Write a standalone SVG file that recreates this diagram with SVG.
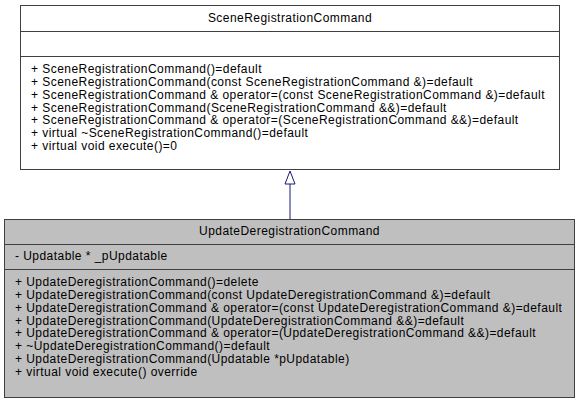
<svg xmlns="http://www.w3.org/2000/svg" width="580" height="404" viewBox="0 0 580 404">
<style>
.box{stroke:#404040;stroke-width:1}
.base{fill:#ffffff}
.cur{fill:#bfbfbf}
.sep{stroke:#404040;stroke-width:1}
text{font-family:"Liberation Sans",Arial,sans-serif;font-size:12px;letter-spacing:0.45px;fill:#000}
.t{text-anchor:middle}
.edge{stroke:#191970;stroke-width:1;fill:none}
.head{stroke:#191970;stroke-width:1;fill:#ffffff}
</style>
<g id="connectors">
<path class="edge" d="M290,184 V219"/>
<polygon class="head" points="290,171 295,184 285,184"/>
</g>
<g id="SceneRegistrationCommand">
<rect class="box base" x="20.5" y="5.5" width="539" height="164"/>
<line class="sep" x1="20.5" y1="31.5" x2="559.5" y2="31.5"/>
<line class="sep" x1="20.5" y1="56.5" x2="559.5" y2="56.5"/>
<text class="t" x="290" y="22">SceneRegistrationCommand</text>
<text x="31" y="73">+ SceneRegistrationCommand()=default</text>
<text x="31" y="85.9">+ SceneRegistrationCommand(const SceneRegistrationCommand &amp;)=default</text>
<text x="31" y="98.7">+ SceneRegistrationCommand &amp; operator=(const SceneRegistrationCommand &amp;)=default</text>
<text x="31" y="111.6">+ SceneRegistrationCommand(SceneRegistrationCommand &amp;&amp;)=default</text>
<text x="31" y="124.4">+ SceneRegistrationCommand &amp; operator=(SceneRegistrationCommand &amp;&amp;)=default</text>
<text x="31" y="137.3">+ virtual ~SceneRegistrationCommand()=default</text>
<text x="31" y="150.1">+ virtual void execute()=0</text>
</g>
<g id="UpdateDeregistrationCommand">
<rect class="box cur" x="4.5" y="219.5" width="570" height="178"/>
<line class="sep" x1="4.5" y1="244.5" x2="574.5" y2="244.5"/>
<line class="sep" x1="4.5" y1="269.5" x2="574.5" y2="269.5"/>
<text class="t" x="289.5" y="235">UpdateDeregistrationCommand</text>
<text x="15" y="260">- Updatable * _pUpdatable</text>
<text x="15" y="286">+ UpdateDeregistrationCommand()=delete</text>
<text x="15" y="298.9">+ UpdateDeregistrationCommand(const UpdateDeregistrationCommand &amp;)=default</text>
<text x="15" y="311.7">+ UpdateDeregistrationCommand &amp; operator=(const UpdateDeregistrationCommand &amp;)=default</text>
<text x="15" y="324.6">+ UpdateDeregistrationCommand(UpdateDeregistrationCommand &amp;&amp;)=default</text>
<text x="15" y="337.4">+ UpdateDeregistrationCommand &amp; operator=(UpdateDeregistrationCommand &amp;&amp;)=default</text>
<text x="15" y="350.3">+ ~UpdateDeregistrationCommand()=default</text>
<text x="15" y="363.1">+ UpdateDeregistrationCommand(Updatable *pUpdatable)</text>
<text x="15" y="376">+ virtual void execute() override</text>
</g>
</svg>
